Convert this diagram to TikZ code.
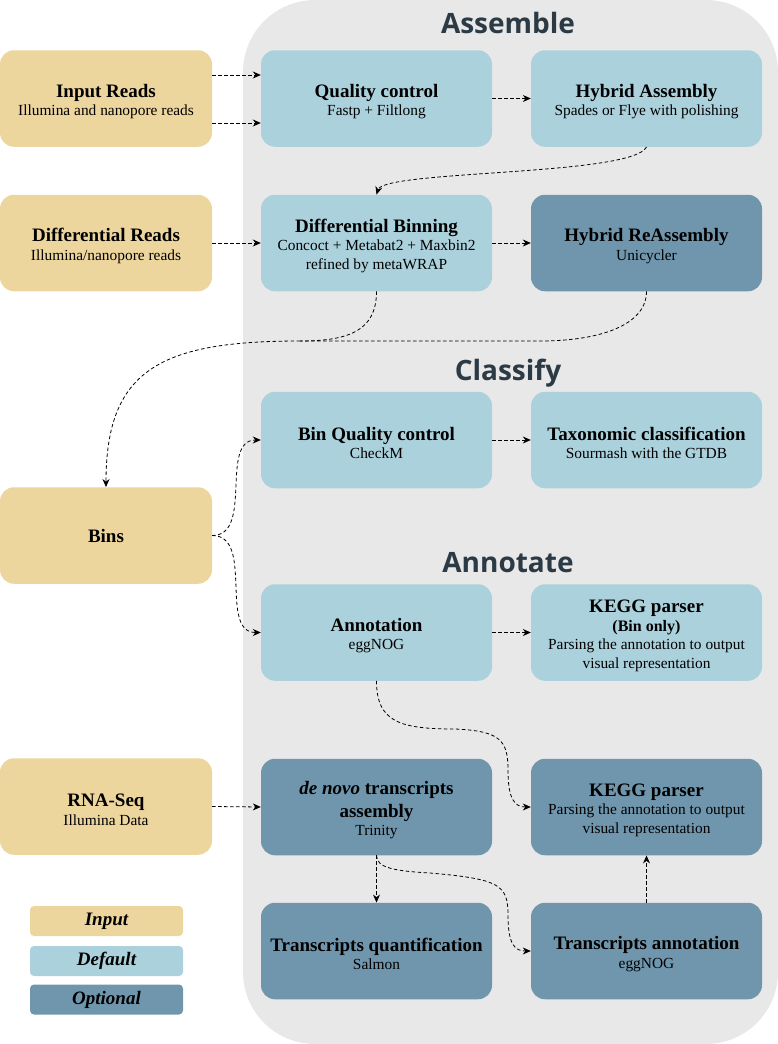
\documentclass[tikz,border=0pt]{standalone}
\usepackage{fontspec}
\setmainfont{Liberation Serif}
\newfontfamily\secfont{Open Sans}
\usetikzlibrary{arrows.meta}
\definecolor{tanc}{HTML}{EDD59E}
\definecolor{lblue}{HTML}{AAD1DC}
\definecolor{steel}{HTML}{7096AD}
\definecolor{bgray}{HTML}{E8E8E8}
\definecolor{secc}{HTML}{2B3A44}
\newcommand{\bxtitle}[1]{{\fontsize{19}{23}\selectfont\bfseries #1}}
\newcommand{\tstrut}{\rule{0pt}{19pt}}
\begin{document}
\begin{tikzpicture}[x=1pt,y=-1pt,
  box/.style={rounded corners=14pt, inner sep=0pt, align=center, text=black,
    minimum height=96.5pt, font=\fontsize{15.4}{18.5}\selectfont},
  lbox/.style={box, minimum width=212pt},
  cbox/.style={box, minimum width=231pt},
  inp/.style={lbox, fill=tanc},
  dflt/.style={cbox, fill=lblue},
  optl/.style={cbox, fill=steel},
  leg/.style={rounded corners=4pt, minimum width=153pt, minimum height=30pt, inner sep=0pt,
    text=black, font=\fontsize{19}{23}\selectfont\bfseries\itshape},
  sec/.style={anchor=base, text=secc, font=\secfont\bfseries\fontsize{28}{30}\selectfont},
  conn/.style={draw=black, line width=0.8pt, dash pattern=on 3.5pt off 2.5pt,
    -{Stealth[length=8pt,width=7pt]}},
  link/.style={draw=black, line width=0.8pt, dash pattern=on 3.5pt off 2.5pt}
]
\useasboundingbox (0,0) rectangle (778,1044);
\fill[bgray, rounded corners=72pt] (243,0) rectangle (778,1044);

% section titles
\node[sec] (tA) at (508,33) {Assemble};
\node[sec] (tC) at (508,380) {Classify};
\node[sec] (tN) at (508,572) {Annotate};

% inputs
\node[inp] (inr) at (106,98.5) {\tstrut\bxtitle{Input Reads}\\Illumina and nanopore reads};
\node[inp] (dfr) at (106,243) {\tstrut\bxtitle{Differential Reads}\\Illumina/nanopore reads};
\node[inp] (bins) at (106,535.5) {\bxtitle{Bins}};
\node[inp] (rna) at (106,806.5) {\tstrut\bxtitle{RNA-Seq}\\Illumina Data};

% assemble
\node[dflt] (qc) at (376.5,98.5) {\tstrut\bxtitle{Quality control}\\Fastp + Filtlong};
\node[dflt] (ha) at (646.5,98.5) {\tstrut\bxtitle{Hybrid Assembly}\\Spades or Flye with polishing};
\node[dflt] (dbn) at (376.5,243) {\tstrut\bxtitle{Differential Binning}\\Concoct + Metabat2 + Maxbin2\\refined by metaWRAP};
\node[optl] (hra) at (646.5,243) {\tstrut\bxtitle{Hybrid ReAssembly}\\Unicycler};

% classify
\node[dflt] (bqc) at (376.5,440) {\tstrut\bxtitle{Bin Quality control}\\CheckM};
\node[dflt] (tax) at (646.5,440) {\tstrut\bxtitle{Taxonomic classification}\\Sourmash with the GTDB};

% annotate
\node[dflt] (ann) at (376.5,632.5) {\tstrut\bxtitle{Annotation}\\eggNOG};
\node[dflt] (kgb) at (646.5,632.5) {\tstrut\bxtitle{KEGG parser}\\{\fontsize{16}{18}\selectfont\bfseries (Bin only)}\\Parsing the annotation to output\\visual representation};
\node[optl] (dn) at (376.5,807) {\tstrut\bxtitle{\textit{de novo} transcripts}\\[4.5pt]\bxtitle{assembly}\\Trinity};
\node[optl] (kgo) at (646.5,807) {\tstrut\bxtitle{KEGG parser}\\Parsing the annotation to output\\visual representation};
\node[optl] (tq) at (376.5,951) {\tstrut\bxtitle{Transcripts quantification}\\Salmon};
\node[optl] (ta) at (646.5,951) {\tstrut\bxtitle{Transcripts annotation}\\eggNOG};

% legend
\node[leg, fill=tanc] (lgi) at (106.5,921) {Input};
\node[leg, fill=lblue] (lgd) at (106.5,961) {Default};
\node[leg, fill=steel] (lgo) at (106.5,999.5) {Optional};

% connectors
\draw[conn] ([yshift=23.5pt]inr.east) -- ([yshift=23.5pt]qc.west);
\draw[conn] ([yshift=-24.5pt]inr.east) -- ([yshift=-24.5pt]qc.west);
\draw[conn] (qc.east) -- (ha.west);
\draw[conn] (ha.south) .. controls (632,176) and (384,170) .. (dbn.north);
\draw[conn] (dfr.east) -- (dbn.west);
\draw[conn] (dbn.east) -- (hra.west);
\coordinate (j) at (300,341);
\draw[link] (dbn.south) .. controls (376.5,330) and (350,341) .. (j);
\draw[conn] (j) .. controls (160,341) and (106,370) .. (bins.north);
\draw[link] (hra.south) .. controls (646.5,325) and (600,341) .. (540,341) -- (j);
\draw[conn] (bins.east) to[out=0,in=180] (bqc.west);
\draw[conn] (bins.east) to[out=0,in=180] (ann.west);
\draw[conn] (bqc.east) -- (tax.west);
\draw[conn] (ann.east) -- (kgb.west);
\coordinate (a1) at (455,729);
\coordinate (a2) at (508,770);
\draw[conn] (ann.south) .. controls (376.5,722) and (400,729) .. (a1)
  .. controls (500,731) and (508,740) .. (a2)
  .. controls (508,800) and (515,807) .. (kgo.west);
\draw[conn] (rna.east) -- (dn.west);
\draw[conn] (dn.south) -- (tq.north);
\coordinate (b1) at (430,873);
\coordinate (b2) at (508,915);
\draw[conn] (dn.south) .. controls (376.5,868) and (395,871) .. (b1)
  .. controls (500,879) and (508,885) .. (b2)
  .. controls (508,945) and (515,951) .. (ta.west);
\draw[conn] (ta.north) -- (kgo.south);
\end{tikzpicture}
\end{document}
